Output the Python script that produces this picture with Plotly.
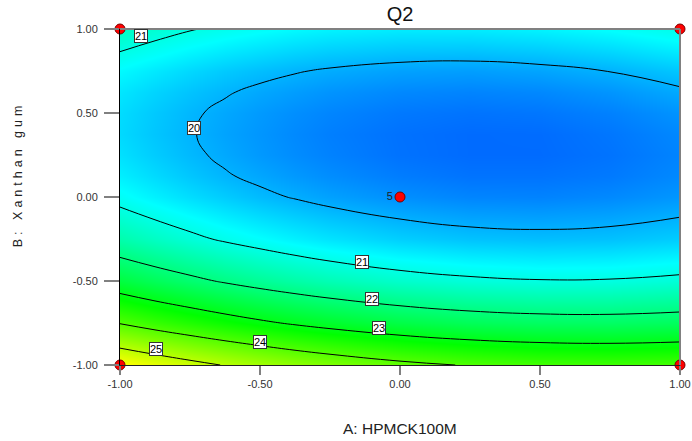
import plotly.graph_objects as go

# Factor levels (coded) for the response grid
a_levels = [-1.0, -0.875, -0.75, -0.625, -0.5, -0.375, -0.25, 0.0, 0.25, 0.5, 0.75, 1.0]   # A: HPMCK100M
b_levels = [-1.0, -0.75, -0.5, -0.25, 0.0, 0.125, 0.25, 0.375, 0.5, 0.625, 0.75, 1.0]     # B: Xanthan gum

# Q2 response, rows = B level, columns = A level
q2_b_m1000 = [25.69, 25.43, 25.19, 24.97, 24.77, 24.58, 24.42, 24.15, 23.96, 23.84, 23.80, 23.84]
q2_b_m0750 = [23.97, 23.72, 23.50, 23.29, 23.10, 22.93, 22.78, 22.53, 22.36, 22.27, 22.25, 22.31]
q2_b_m0500 = [22.59, 22.35, 22.14, 21.94, 21.76, 21.60, 21.46, 21.24, 21.10, 21.03, 21.04, 21.13]
q2_b_m0250 = [21.54, 21.32, 21.12, 20.93, 20.77, 20.62, 20.49, 20.29, 20.17, 20.13, 20.16, 20.27]
q2_b_0000 = [20.83, 20.62, 20.43, 20.26, 20.10, 19.97, 19.85, 19.68, 19.58, 19.56, 19.62, 19.75]
q2_b_p0125 = [20.60, 20.40, 20.21, 20.04, 19.90, 19.77, 19.66, 19.50, 19.41, 19.41, 19.47, 19.62]
q2_b_p0250 = [20.46, 20.26, 20.08, 19.92, 19.77, 19.65, 19.55, 19.40, 19.33, 19.33, 19.41, 19.57]
q2_b_p0375 = [20.39, 20.20, 20.03, 19.87, 19.74, 19.62, 19.52, 19.39, 19.33, 19.34, 19.44, 19.61]
q2_b_p0500 = [20.42, 20.23, 20.06, 19.91, 19.78, 19.67, 19.58, 19.46, 19.41, 19.44, 19.54, 19.72]
q2_b_p0625 = [20.52, 20.34, 20.18, 20.04, 19.91, 19.81, 19.72, 19.61, 19.57, 19.61, 19.73, 19.93]
q2_b_p0750 = [20.71, 20.54, 20.38, 20.24, 20.13, 20.03, 19.95, 19.85, 19.82, 19.88, 20.01, 20.21]
q2_b_p1000 = [21.34, 21.18, 21.03, 20.91, 20.81, 20.72, 20.65, 20.58, 20.58, 20.65, 20.78, 20.97]
q2_grid = [q2_b_m1000, q2_b_m0750, q2_b_m0500, q2_b_m0250, q2_b_0000, q2_b_p0125,
           q2_b_p0250, q2_b_p0375, q2_b_p0500, q2_b_p0625, q2_b_p0750, q2_b_p1000]

# Design points
design_a = [-1, -1, 1, 1, 0]
design_b = [-1, 1, -1, 1, 0]
design_txt = ["", "", "", "", "5"]

# Contour labels
label_text = ["21", "20", "21", "22", "23", "24", "25"]
label_a = [-0.925, -0.736, -0.136, -0.10, -0.075, -0.50, -0.871]
label_b = [0.958, 0.411, -0.387, -0.607, -0.780, -0.863, -0.905]

tick_vals = [-1.0, -0.5, 0.0, 0.5, 1.0]
tick_text = ["-1.00", "-0.50", "0.00", "0.50", "1.00"]

FONT = "Liberation Sans, Arial, sans-serif"

fig = go.Figure()

fig.add_trace(go.Heatmap(
    x=a_levels, y=b_levels, z=q2_grid, zsmooth="best",
    colorscale=[[0.0, "rgb(0,0,255)"], [0.25, "rgb(0,255,255)"],
                [0.5, "rgb(0,255,0)"], [0.75, "rgb(255,255,0)"],
                [1.0, "rgb(255,0,0)"]],
    zmin=18.3, zmax=28.1, showscale=False, hoverinfo="skip"))

fig.add_trace(go.Contour(
    x=a_levels, y=b_levels, z=q2_grid,
    contours=dict(start=20, end=25, size=1, coloring="none"),
    line=dict(color="black", width=1, smoothing=1.3),
    showscale=False, hoverinfo="skip"))

fig.add_trace(go.Scatter(
    x=design_a, y=design_b, mode="markers+text", text=design_txt,
    textposition="middle left",
    textfont=dict(family=FONT, size=11, color="#222"),
    marker=dict(symbol="circle", size=10, color="red",
                line=dict(color="#7a0000", width=1)),
    cliponaxis=False, showlegend=False, hoverinfo="skip"))

for t, xa, yb in zip(label_text, label_a, label_b):
    fig.add_annotation(x=xa, y=yb, text=t, showarrow=False,
                       font=dict(family=FONT, size=11, color="black"),
                       bgcolor="white", bordercolor="#333", borderwidth=1,
                       borderpad=0)

fig.add_annotation(xref="paper", yref="paper", x=0.5, y=-0.1875,
                   xanchor="center", yanchor="middle",
                   text="A: HPMCK100M", showarrow=False,
                   font=dict(family=FONT, size=15.5, color="#222"))
fig.add_annotation(xref="paper", yref="paper", x=-0.182, y=0.568,
                   xanchor="center", yanchor="middle",
                   text="B: Xanthan gum", showarrow=False, textangle=-90,
                   font=dict(family=FONT, size=12.5, color="#222"))

fig.add_shape(type="line", xref="paper", yref="paper", x0=0, x1=1, y0=1, y1=1,
              line=dict(color="#808080", width=2))
fig.add_shape(type="line", xref="paper", yref="paper", x0=1, x1=1, y0=0, y1=1,
              line=dict(color="#808080", width=2))

fig.update_layout(
    width=692, height=441,
    margin=dict(l=120, r=12, t=29, b=76, autoexpand=False),
    paper_bgcolor="white", plot_bgcolor="white",
    showlegend=False,
    title=dict(text="Q2", x=0.578, xanchor="center", y=0.968, yanchor="middle",
               font=dict(family=FONT, size=20, color="#111")),
    xaxis=dict(range=[-1, 1], tickvals=tick_vals, ticktext=tick_text,
               automargin=False,
               ticks="outside", ticklen=9, tickwidth=2, tickcolor="#808080",
               showgrid=False, zeroline=False, showline=True,
               linecolor="#222", linewidth=1,
               tickfont=dict(family=FONT, size=11, color="#333")),
    yaxis=dict(range=[-1, 1], tickvals=tick_vals, ticktext=tick_text,
               automargin=False,
               ticks="outside", ticklen=15, tickwidth=2, tickcolor="#808080",
               ticklabelstandoff=4,
               showgrid=False, zeroline=False, showline=True,
               linecolor="black", linewidth=1,
               tickfont=dict(family=FONT, size=11, color="#333")),
)

post_js = (
    "document.body.style.margin='0px';document.body.style.overflow='hidden';"
    "document.querySelectorAll('.annotation-text').forEach(function(t){"
    "if(t.textContent==='B: Xanthan gum'){t.style.letterSpacing='4px';}});"
)
fig.write_html("out.html", config={"displayModeBar": False}, post_script=post_js)
